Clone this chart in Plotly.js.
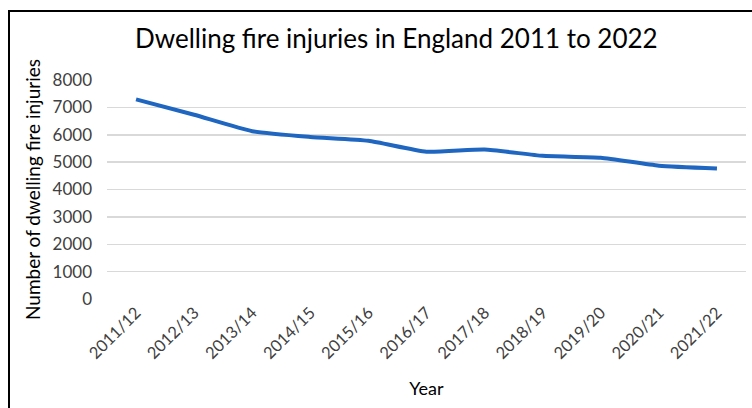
<!DOCTYPE html>
<html>
<head>
<meta charset="utf-8">
<script src="https://cdn.plot.ly/plotly-3.0.1.min.js"></script>
<style>
html,body{margin:0;padding:0;background:#fff;}
#wrap{position:relative;width:752px;height:408px;overflow:hidden;}
#chart{width:752px;height:408px;}
#frame{position:absolute;left:8px;top:10px;width:800px;height:500px;border-left:2px solid #000;border-top:2px solid #000;pointer-events:none;}
</style>
</head>
<body>
<div id="wrap"><div id="chart"></div><div id="frame"></div></div>
<script>
const years = ["2011/12","2012/13","2013/14","2014/15","2015/16","2016/17","2017/18","2018/19","2019/20","2020/21","2021/22"];
const injuries = [7290, 6730, 6130, 5920, 5780, 5380, 5460, 5230, 5160, 4870, 4770];
const yTicks = [0,1000,2000,3000,4000,5000,6000,7000,8000];

const FONT = "Lato, 'Open Sans', sans-serif";

Plotly.newPlot('chart', [{
  x: years,
  y: injuries,
  type: 'scatter',
  mode: 'lines',
  line: {color: '#1f66c1', width: 4, shape: 'spline', smoothing: 0.5},
  hoverinfo: 'skip'
}], {
  width: 752, height: 408,
  margin: {l: 107, r: 6, t: 80, b: 109, pad: 0},
  paper_bgcolor: '#fff', plot_bgcolor: '#fff',
  showlegend: false,
  font: {family: FONT, color: '#595959'},
  title: {text: 'Dwelling fire injuries in England 2011 to 2022', font: {family: FONT, size: 26, color: '#000'}, x: 0.527, xanchor: 'center', y: 0.905, yanchor: 'middle'},
  xaxis: {
    type: 'category', range: [-0.5, 10.5], tickangle: -45,
    showgrid: false, zeroline: false, showline: false, ticks: '',
    tickfont: {family: FONT, size: 16.5, color: '#404040'},
    title: {text: 'Year', font: {family: FONT, size: 18, color: '#000'}, standoff: 20}
  },
  yaxis: {
    range: [0, 8000], tickvals: yTicks, ticktext: yTicks.map(String),
    showgrid: true, gridcolor: '#d9d9d9', gridwidth: 1.5,
    zeroline: false, showline: false, ticks: '', ticklabelstandoff: 14,
    tickfont: {family: FONT, size: 17, color: '#404040'},
    title: {text: 'Number of dwelling fire injuries', font: {family: FONT, size: 19, color: '#000'}, standoff: 6}
  }
}, {displayModeBar: false, staticPlot: true});
</script>
</body>
</html>
